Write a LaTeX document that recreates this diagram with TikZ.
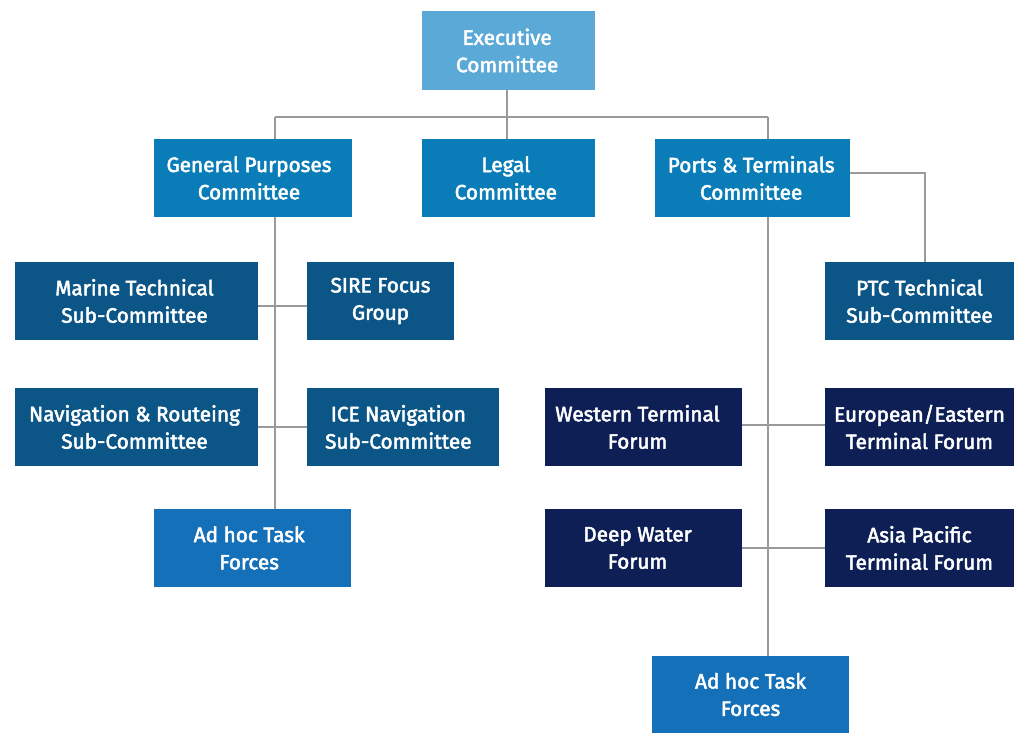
\documentclass[tikz,border=0pt]{standalone}
\usepackage{fontspec}
\setmainfont{Fira Sans}[UprightFeatures={FakeBold=2.4}]
\definecolor{execblue}{HTML}{5BA9D6}
\definecolor{commblue}{HTML}{0A7DB8}
\definecolor{subblue}{HTML}{0B5587}
\definecolor{forumnavy}{HTML}{0D1F55}
\definecolor{taskblue}{HTML}{1470B8}
\definecolor{linkgray}{HTML}{9A9A9A}
% trailing space on a centred line, nudging the text block to the left
\newcommand{\padright}[1]{\hspace*{#1}}
\begin{document}
\begin{tikzpicture}[x=0.75pt,y=-0.75pt,
  bx/.style 2 args={rectangle, inner sep=0pt, minimum width=#1*0.75pt, minimum height=#2*0.75pt,
    text=white, align=center, font=\fontsize{15.6}{20.5}\selectfont},
  exec/.style={bx={173}{79}, fill=execblue},
  comm/.style={fill=commblue},
  sub/.style={fill=subblue},
  forum/.style={fill=forumnavy},
  task/.style={fill=taskblue},
  link/.style={draw=linkgray, line width=1.5pt}]
\useasboundingbox (0,0) rectangle (1015,733);

% top level
\node[exec] (exec) at (508.5,50.5) {Executive\padright{2pt}\\Committee\padright{2pt}};

% committees
\node[bx={198}{78}, comm] (gp) at (253,178) {General Purposes\padright{6pt}\\Committee\padright{6pt}};
\node[bx={173}{78}, comm] (legal) at (508.5,178) {Legal\padright{4pt}\\Committee\padright{4pt}};
\node[bx={195}{78}, comm] (ports) at (752.5,178) {Ports \& Terminals\padright{2pt}\\Committee\padright{2pt}};

% general purposes branch
\node[bx={243}{78}, sub] (marine) at (136.5,301) {Marine Technical\padright{3pt}\\Sub-Committee\padright{3pt}};
\node[bx={147}{78}, sub] (sire) at (380.5,301) {SIRE Focus\\Group};
\node[bx={243}{78}, sub] (nav) at (136.5,427) {Navigation \& Routeing\padright{3pt}\\Sub-Committee\padright{3pt}};
\node[bx={192}{78}, sub] (ice) at (403,427) {ICE Navigation\padright{7pt}\\Sub-Committee\padright{7pt}};
\node[bx={197}{78}, task] (adhocL) at (252.5,548) {Ad hoc Task\padright{5pt}\\Forces\padright{5pt}};

% ports & terminals branch
\node[bx={189}{78}, sub] (ptc) at (919.5,301) {PTC Technical\\Sub-Committee};
\node[bx={197}{78}, forum] (western) at (643.5,427) {Western Terminal\padright{9pt}\\Forum\padright{9pt}};
\node[bx={189}{78}, forum] (euro) at (919.5,427) {European/Eastern\\Terminal Forum};
\node[bx={197}{78}, forum] (deep) at (643.5,548) {Deep Water\padright{9pt}\\Forum\padright{9pt}};
\node[bx={189}{78}, forum] (asia) at (919.5,548) {Asia Pacific\\Terminal Forum};
\node[bx={197}{77}, task] (adhocR) at (750.5,694.5) {Ad hoc Task\\Forces};

% junction points
\coordinate (busL) at (275,117);
\coordinate (busM) at (507,117);
\coordinate (busR) at (768,117);
\coordinate (spineL) at (275,0);
\coordinate (spineR) at (768,0);
\coordinate (ptcTurn) at (925,173);

% connectors from the executive committee
\draw[link] (exec.south -| busM) -- (busM);
\draw[link] (busL) -- (busR);
\draw[link] (busL) -- (gp.north -| busL);
\draw[link] (busM) -- (legal.north -| busM);
\draw[link] (busR) -- (ports.north -| busR);

% general purposes spine and branches
\draw[link] (gp.south -| spineL) -- (adhocL.north -| spineL);
\draw[link] (marine.east |- 0,306) -- (sire.west |- 0,306);
\draw[link] (nav.east) -- (ice.west);

% ports & terminals spine and branches
\draw[link] (ports.south -| spineR) -- (adhocR.north -| spineR);
\draw[link] (western.east |- 0,425) -- (euro.west |- 0,425);
\draw[link] (deep.east) -- (asia.west);
\draw[link] (ports.east |- ptcTurn) -- (ptcTurn) -- (ptc.north -| ptcTurn);
\end{tikzpicture}
\end{document}
